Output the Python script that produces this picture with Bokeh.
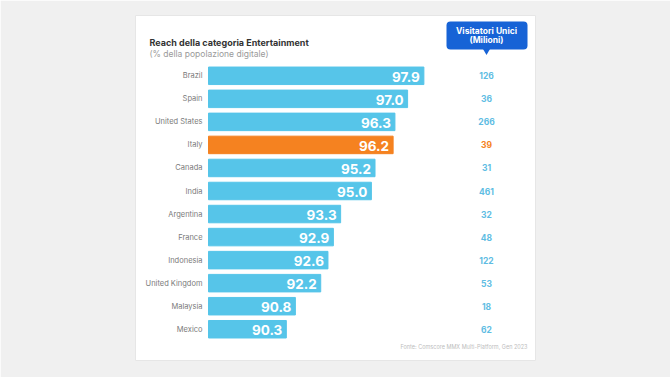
from bokeh.plotting import figure
from bokeh.models import ColumnDataSource, Range1d, BoxAnnotation, Label
from bokeh.core.properties import value
from bokeh.embed import file_html
from bokeh.resources import INLINE

countries = ["Brazil", "Spain", "United States", "Italy", "Canada", "India",
             "Argentina", "France", "Indonesia", "United Kingdom", "Malaysia", "Mexico"]
reach = [97.9, 97.0, 96.3, 96.2, 95.2, 95.0, 93.3, 92.9, 92.6, 92.2, 90.8, 90.3]
visitors = [126, 36, 266, 39, 31, 461, 32, 48, 122, 53, 18, 62]
highlight = "Italy"

title = "Reach della categoria Entertainment"
subtitle = "(% della popolazione digitale)"
col_header = ["Visitatori Unici", "(Milioni)"]
source_note = "Fonte: Comscore MMX Multi-Platform, Gen 2023"

BLUE = "#56c5e9"
ORANGE = "#f58220"
NUM_BLUE = "#5fbde3"
HEAD_BLUE = "#1763d6"
FONT = "Inter"

# layout (pixel) helpers for the card frame
W_FRAME, H_FRAME = 400, 345
PX_PER_X = 18.1
PX_PER_Y = 23.04
X0 = 86.0
x_start = X0 - 73 / PX_PER_X
y_top = -60.3 / PX_PER_Y


def dx(px):
    return x_start + px / PX_PER_X


def dy(py):
    return y_top + py / PX_PER_Y


base = [X0] * len(countries)
ypos = list(range(len(countries)))
colors = [ORANGE if c == highlight else BLUE for c in countries]
num_colors = [ORANGE if c == highlight else NUM_BLUE for c in countries]
vcol = [dx(486 - 135)] * len(countries)

src = ColumnDataSource(dict(
    country=countries, reach=reach, base=base, y=ypos, color=colors,
    vis=[str(v) for v in visitors], ncolor=num_colors, vx=vcol,
    rlabel=[f"{r:.1f}" for r in reach],
))

p = figure(width=670, height=377, output_backend="svg", toolbar_location=None,
           x_range=Range1d(x_start, x_start + W_FRAME / PX_PER_X),
           y_range=Range1d(y_top + H_FRAME / PX_PER_Y, y_top),
           min_border_left=135, min_border_right=135, min_border_top=15,
           min_border_bottom=17)
p.axis.visible = False
p.grid.visible = False
p.border_fill_color = "#f0f0f0"
p.background_fill_color = "white"
p.outline_line_color = "#e6e6e6"

p.hbar(y="y", left="base", right="reach", height=0.76, color="color", source=src)

p.text(x="reach", y="y", text="rlabel", source=src, x_offset=-4, y_offset=1,
       text_align="right", text_baseline="middle", text_color="white",
       text_font=value(FONT), text_font_style="bold", text_font_size="13.5px")

p.text(x="base", y="y", text="country", source=src, x_offset=-6,
       text_align="right", text_baseline="middle", text_color="#7a7a7a",
       text_font=value(FONT), text_font_size="7.5px")

p.text(x="vx", y="y", text="vis", source=src,
       text_align="center", text_baseline="middle", text_color="ncolor",
       text_font=value(FONT), text_font_style="bold", text_font_size="8.5px")

# titles
p.add_layout(Label(x=dx(14), y=dy(27), text=title, text_baseline="middle",
                   text_font=FONT, text_font_size="9px", text_font_style="bold",
                   text_color="#333333"))
p.add_layout(Label(x=dx(14), y=dy(38.5), text=subtitle, text_baseline="middle",
                   text_font=FONT, text_font_size="8.5px", text_color="#9a9a9a"))

# column header box
p.add_layout(BoxAnnotation(left=dx(311), right=dx(392), top=dy(6), bottom=dy(34),
                           fill_color=HEAD_BLUE, fill_alpha=1, line_color=None,
                           border_radius=4))
p.scatter(x=[dx(351)], y=[dy(35.5)], marker="inverted_triangle", size=7,
          color=HEAD_BLUE, line_color=None)
p.add_layout(Label(x=dx(351), y=dy(15.3), text=col_header[0], text_align="center",
                   text_baseline="middle", text_font=FONT, text_font_size="8.5px",
                   text_font_style="bold", text_color="white"))
p.add_layout(Label(x=dx(351), y=dy(24.3), text=col_header[1], text_align="center",
                   text_baseline="middle", text_font=FONT, text_font_size="8.5px",
                   text_font_style="bold", text_color="white"))

# source
p.add_layout(Label(x=dx(392), y=dy(331.7), text=source_note, text_align="right",
                   text_baseline="middle", text_font=FONT, text_font_size="5.5px",
                   text_color="#bdbdbd"))

html = file_html(p, INLINE)
open("out.html", "w").write(html)
